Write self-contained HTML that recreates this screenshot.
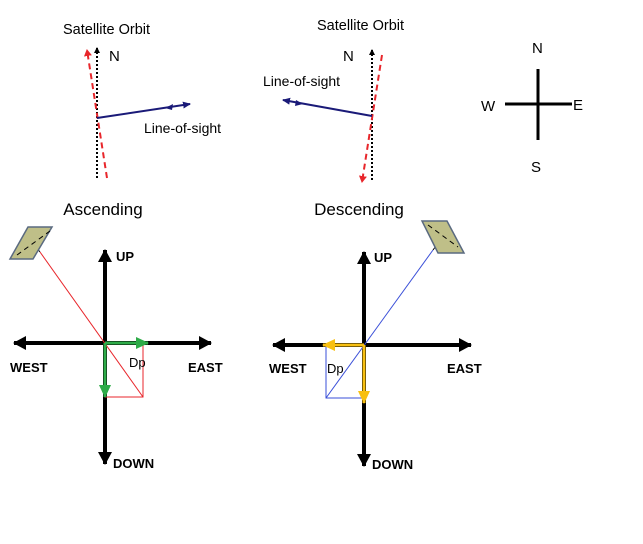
<!DOCTYPE html>
<html><head><style>
body{margin:0;background:#fff}
svg{display:block}
text{font-family:"Liberation Sans",sans-serif}
</style></head><body>
<svg width="643" height="544" viewBox="0 0 643 544" xmlns="http://www.w3.org/2000/svg">
<defs>
<marker id="ak" markerWidth="6" markerHeight="6" refX="5" refY="3" orient="auto" markerUnits="userSpaceOnUse"><path d="M0,0L6,3L0,6z" fill="#000"/></marker>
<marker id="ar" markerWidth="7" markerHeight="8" refX="6" refY="4" orient="auto" markerUnits="userSpaceOnUse"><path d="M0,0L7,4L0,8z" fill="#e8262b"/></marker>
<marker id="ab" markerWidth="8" markerHeight="7" refX="7" refY="3.5" orient="auto" markerUnits="userSpaceOnUse"><path d="M0,0L8,3.5L0,7z" fill="#1a1a78"/></marker>
<marker id="AK" markerWidth="14" markerHeight="14" refX="12" refY="7" orient="auto" markerUnits="userSpaceOnUse"><path d="M0,0L13,7L0,14z" fill="#000"/></marker>
<marker id="AG" markerWidth="14" markerHeight="12" refX="12" refY="6" orient="auto" markerUnits="userSpaceOnUse"><path d="M0,0L13,6L0,12z" fill="#2eab48"/></marker>
<marker id="AY" markerWidth="14" markerHeight="12" refX="12" refY="6" orient="auto" markerUnits="userSpaceOnUse"><path d="M0,0L13,6L0,12z" fill="#f8c012"/></marker>
</defs>

<!-- top left -->
<text x="63" y="34" font-size="14.5">Satellite Orbit</text>
<text x="109" y="61" font-size="15">N</text>
<line x1="97" y1="178" x2="97" y2="48" stroke="#000" stroke-width="2" stroke-dasharray="2,2" marker-end="url(#ak)"/>
<line x1="107" y1="178" x2="87" y2="50" stroke="#e8262b" stroke-width="2" stroke-dasharray="6,4" marker-end="url(#ar)"/>
<line x1="97" y1="118" x2="190" y2="104" stroke="#1a1a78" stroke-width="2" marker-end="url(#ab)"/>
<path d="M165,108l8,-4l-1,6z" fill="#1a1a78"/>
<text x="144" y="133" font-size="14">Line-of-sight</text>

<!-- top middle -->
<text x="317" y="30" font-size="14.5">Satellite Orbit</text>
<text x="343" y="61" font-size="15">N</text>
<line x1="372" y1="180" x2="372" y2="50" stroke="#000" stroke-width="2" stroke-dasharray="2,2" marker-end="url(#ak)"/>
<line x1="382" y1="55" x2="362" y2="182" stroke="#e8262b" stroke-width="2" stroke-dasharray="6,4" marker-end="url(#ar)"/>
<line x1="372" y1="116" x2="283" y2="100" stroke="#1a1a78" stroke-width="2" marker-end="url(#ab)"/>
<path d="M303,104l-7,-4l-1,6z" fill="#1a1a78"/>
<text x="263" y="86" font-size="14">Line-of-sight</text>

<!-- compass -->
<line x1="538" y1="69" x2="538" y2="140" stroke="#000" stroke-width="3"/>
<line x1="505" y1="104" x2="572" y2="104" stroke="#000" stroke-width="3"/>
<text x="532" y="53" font-size="15">N</text>
<text x="531" y="172" font-size="15">S</text>
<text x="481" y="111" font-size="15">W</text>
<text x="573" y="110" font-size="15">E</text>

<text x="103" y="215" font-size="17" text-anchor="middle">Ascending</text>
<text x="359" y="215" font-size="17" text-anchor="middle">Descending</text>

<!-- ascending cross -->
<g stroke="#000" stroke-width="4">
<line x1="105" y1="343" x2="105" y2="250" marker-end="url(#AK)"/>
<line x1="105" y1="343" x2="105" y2="464" marker-end="url(#AK)"/>
<line x1="105" y1="343" x2="14" y2="343" marker-end="url(#AK)"/>
<line x1="105" y1="343" x2="211" y2="343" marker-end="url(#AK)"/>
</g>
<rect x="105" y="343" width="38" height="54" fill="none" stroke="#e8262b" stroke-width="1"/>
<line x1="143" y1="397" x2="40" y2="252" stroke="#e8262b" stroke-width="1"/>
<line x1="40" y1="252" x2="33" y2="243" stroke="#000" stroke-width="1" marker-end="url(#ak)"/>
<line x1="105" y1="343" x2="148" y2="343" stroke="#2eab48" stroke-width="3" marker-end="url(#AG)"/>
<line x1="105" y1="343" x2="105" y2="397" stroke="#2eab48" stroke-width="3" marker-end="url(#AG)"/>
<polygon points="28,227 52,227 33,259 10,259" fill="#bfbf88" stroke="#5a6a80" stroke-width="1.5"/>
<line x1="17" y1="255" x2="50" y2="231" stroke="#000" stroke-width="1" stroke-dasharray="5,4"/>
<g font-size="13" font-weight="bold">
<text x="116" y="261">UP</text>
<text x="10" y="372">WEST</text>
<text x="188" y="372">EAST</text>
<text x="113" y="468">DOWN</text>
</g>
<text x="129" y="367" font-size="13">Dp</text>

<!-- descending cross -->
<g stroke="#000" stroke-width="4">
<line x1="364" y1="345" x2="364" y2="252" marker-end="url(#AK)"/>
<line x1="364" y1="345" x2="364" y2="466" marker-end="url(#AK)"/>
<line x1="364" y1="345" x2="273" y2="345" marker-end="url(#AK)"/>
<line x1="364" y1="345" x2="471" y2="345" marker-end="url(#AK)"/>
</g>
<rect x="326" y="345" width="38" height="53" fill="none" stroke="#3a4fd8" stroke-width="1"/>
<line x1="326" y1="398" x2="433" y2="250" stroke="#3a4fd8" stroke-width="1"/>
<line x1="433" y1="250" x2="442" y2="238" stroke="#000" stroke-width="1" marker-end="url(#ak)"/>
<line x1="364" y1="345" x2="323" y2="345" stroke="#f8c012" stroke-width="3" marker-end="url(#AY)"/>
<line x1="364" y1="345" x2="364" y2="403" stroke="#f8c012" stroke-width="3" marker-end="url(#AY)"/>
<polygon points="422,221 447,221 464,253 438,253" fill="#bfbf88" stroke="#5a6a80" stroke-width="1.5"/>
<line x1="428" y1="225" x2="458" y2="247" stroke="#000" stroke-width="1" stroke-dasharray="5,4"/>
<g font-size="13" font-weight="bold">
<text x="374" y="262">UP</text>
<text x="269" y="373">WEST</text>
<text x="447" y="373">EAST</text>
<text x="372" y="469">DOWN</text>
</g>
<text x="327" y="373" font-size="13">Dp</text>
</svg>
</body></html>
